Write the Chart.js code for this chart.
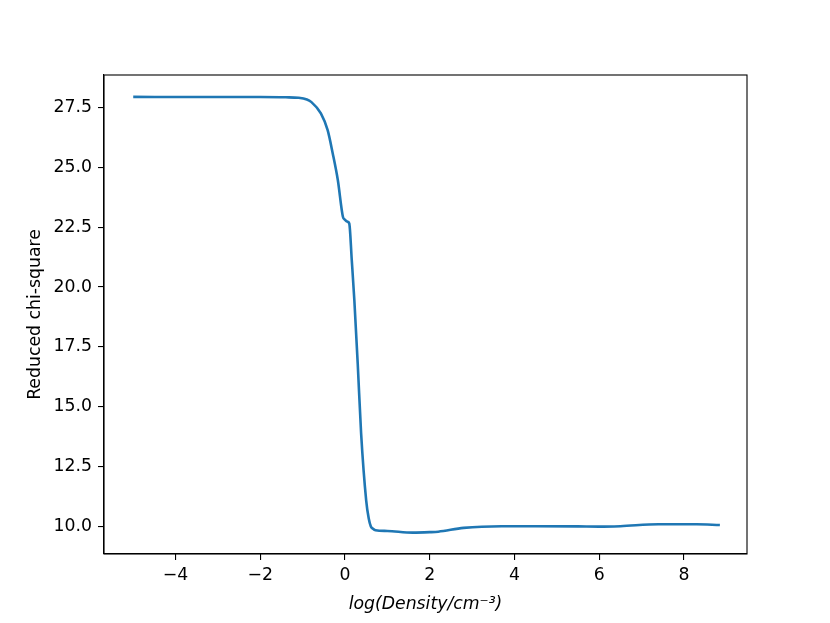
<!DOCTYPE html>
<html>
<head>
<meta charset="utf-8">
<script src="https://cdn.jsdelivr.net/npm/chart.js@4"></script>
<style>
  body { margin: 0; background: #fff; }
</style>
</head>
<body>
<canvas id="canvas" width="830" height="623"></canvas>
<script>
// log density vs reduced chi-square
var logDensity = [-5, -3.5, -2, -1.4, -1.1, -0.9, -0.8, -0.57, -0.41, -0.29, -0.17, -0.05, 0.0, 0.06, 0.10,
                  0.16, 0.22, 0.30, 0.38, 0.50, 0.56, 0.61, 0.66, 0.72, 1.0, 1.6, 2.0, 2.2,
                  2.8, 3.7, 4.5, 5.5, 6.0, 6.5, 7.4, 8.3, 8.85];
var chiSquare = [27.93, 27.92, 27.92, 27.91, 27.89, 27.82, 27.72, 27.24, 26.54, 25.57, 24.46, 22.93, 22.8, 22.72, 22.65,
                 21.1, 19.46, 16.8, 13.9, 11.1, 10.35, 10.02, 9.92, 9.86, 9.83, 9.76, 9.78, 9.80,
                 9.96, 10.03, 10.03, 10.02, 10.01, 10.03, 10.11, 10.11, 10.08];
var xTicks = [-4, -2, 0, 2, 4, 6, 8];
var yTicks = [10.0, 12.5, 15.0, 17.5, 20.0, 22.5, 25.0, 27.5];

Chart.defaults.font.family = "'DejaVu Sans', sans-serif";
Chart.defaults.font.size = 17.3;
Chart.defaults.color = '#000';

var points = logDensity.map(function(x, i){
    return {x: x, y: chiSquare[i]};
});

var frame = {
    id: 'frame',
    afterDraw: function(chart){
        var a = chart.chartArea, c = chart.ctx;
        c.save();
        c.strokeStyle = '#000';
        c.lineWidth = 1.1;
        c.strokeRect(a.left, a.top, a.right - a.left, a.bottom - a.top);
        c.restore();
    }
};

const ctx = document.getElementById('canvas').getContext('2d');
const myChart = new Chart(ctx, {
    type: 'line',
    data: {
        datasets: [{
            data: points,
            borderColor: '#1f77b4',
            borderWidth: 2.6,
            pointRadius: 0,
            fill: false,
            cubicInterpolationMode: 'monotone'
        }]
    },
    options: {
        responsive: false,
        animation: false,
        layout: { padding: { left: 0, right: 83, top: 75, bottom: 0 } },
        plugins: { legend: { display: false }, tooltip: { enabled: false } },
        scales: {
            x: {
                type: 'linear',
                min: -5.69,
                max: 9.49,
                afterBuildTicks: function(s){ s.ticks = xTicks.map(function(v){ return {value: v}; }); },
                afterFit: function(s){ s.height = 69; },
                grid: { drawOnChartArea: false, tickLength: 6, color: '#000', lineWidth: 1.1 },
                border: { color: '#000', width: 1.1 },
                ticks: {
                    padding: 5,
                    maxRotation: 0,
                    callback: function(v){ return String(v).replace('-', '\u2212'); }
                },
                title: {
                    display: true,
                    text: 'log(Density/cm\u207B\u00B3)',
                    font: { style: 'italic', size: 17.3 },
                    padding: { top: 0, bottom: 8 }
                }
            },
            y: {
                type: 'linear',
                min: 8.87,
                max: 28.84,
                afterBuildTicks: function(s){ s.ticks = yTicks.map(function(v){ return {value: v}; }); },
                afterFit: function(s){ s.width = 104; },
                grid: { drawOnChartArea: false, tickLength: 6, color: '#000', lineWidth: 1.1 },
                border: { color: '#000', width: 1.1 },
                ticks: {
                    padding: 6,
                    callback: function(v){ return v.toFixed(1); }
                },
                title: {
                    display: true,
                    text: 'Reduced chi-square',
                    padding: { top: 25, bottom: 0 }
                }
            }
        }
    },
    plugins: [frame]
});
</script>
</body>
</html>
